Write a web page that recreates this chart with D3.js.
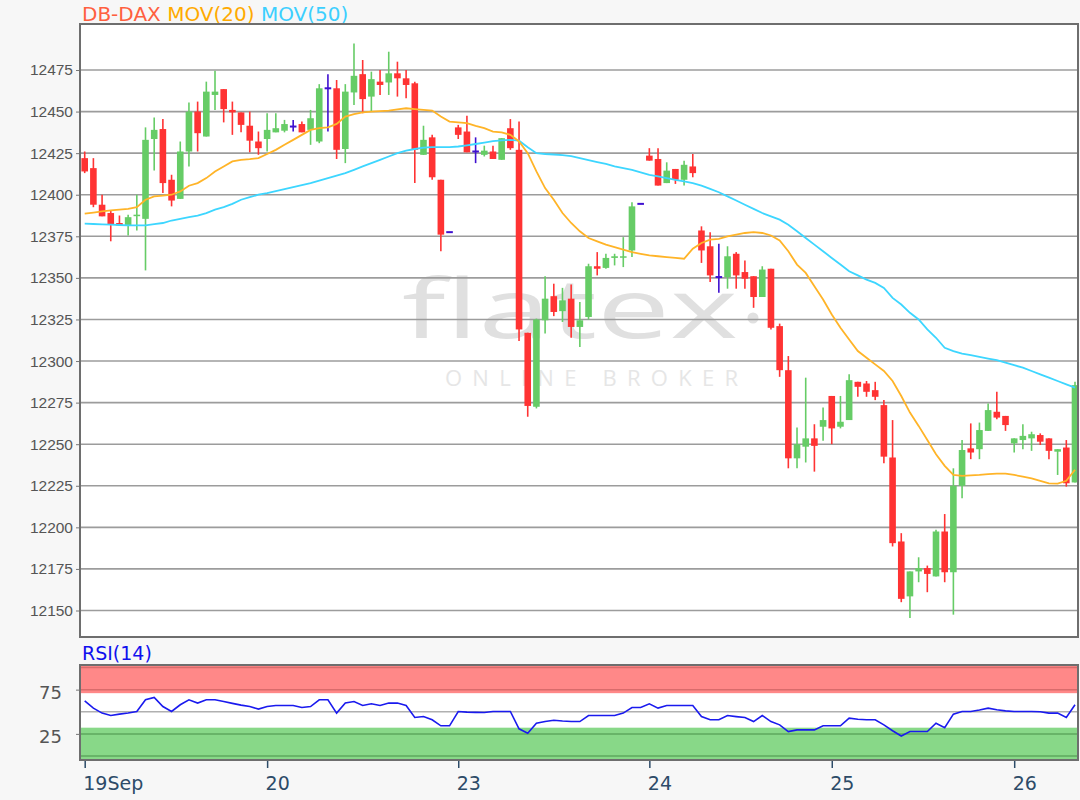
<!DOCTYPE html>
<html><head><meta charset="utf-8">
<script src="https://cdn.jsdelivr.net/npm/d3@7"></script>
<style>body{margin:0;background:#f7f7f7;} svg{display:block;font-family:"DejaVu Sans",Verdana,sans-serif;}</style>
</head><body><svg id="c" width="1080" height="800"></svg>
<script>
const opens=[12422,12416,12394,12389,12383,12381.5,12387.5,12385.5,12433.5,12439.5,
12409,12397.5,12426,12450,12435,12460,12463.5,12451,12449.5,12441.5,
12432,12433.5,12437.5,12438.5,12441,12442.5,12439,12432,12464,12464,
12427.5,12461.5,12472.5,12459,12468,12467.5,12473,12470,12467,12424,
12434.5,12409,12377.5,12440.5,12438,12426,12424,12426,12421,12440,
12427,12317,12272.5,12324.5,12339,12330,12337.5,12320.5,12326.5,12357,
12356,12362,12362.5,12366.5,12394.5,12423.5,12421.5,12407,12415.5,12409,
12417,12378.5,12369,12350.5,12350.5,12364.5,12353.5,12351,12338.5,12355.5,
12321,12294.5,12241.5,12248.5,12253.5,12260.5,12279,12260.5,12264.5,12287.5,
12286.5,12282.5,12273.5,12242,12191.5,12158.5,12173.5,12175.5,12170.5,12197.5,
12173,12225,12247.5,12247,12258,12269.5,12267,12250.5,12252.5,12253.5,
12255.5,12253.5,12245.5,12248,12227];
const highs=[12426,12422,12400,12390.5,12387.5,12388,12400,12440.5,12446.5,12445.5,
12412,12432,12455.5,12456,12468,12474.5,12463.5,12456,12449.5,12450,
12438,12449,12449,12445,12445,12444,12451,12466.5,12472.5,12469,
12466.5,12491,12481,12474,12475,12486,12480,12475,12468,12441.5,
12436,12409,12377.5,12442,12447.5,12434.5,12429.5,12429.5,12434,12445.5,
12444,12317,12325.5,12351,12346.5,12344,12346,12335.5,12358.5,12365.5,
12364.5,12364.5,12374.5,12395.5,12394.5,12428,12428,12419.5,12415.5,12420.5,
12424.5,12381,12377.5,12370.5,12369,12365.5,12360.5,12351,12357,12355.5,
12322.5,12303,12260,12290,12262,12272,12279,12279,12292,12287.5,
12288,12287.5,12276.5,12264.5,12196.5,12173.5,12182,12177,12198.5,12208,
12235.5,12252.5,12262.5,12263,12274.5,12281.5,12267,12253.5,12262,12257.5,
12256.5,12253.5,12247,12252.5,12287.5];
const lows=[12413,12392.5,12387,12372,12381.5,12375.5,12378.5,12354.5,12414.5,12401,
12393,12397.5,12417,12426,12435,12451,12443.5,12436,12437.5,12425.5,
12424,12426,12437.5,12437.5,12438,12437.5,12430,12431,12438,12421.5,
12419,12454,12449,12450,12460,12460,12459,12458,12407,12424,
12409,12366,12377.5,12433.5,12425.5,12419,12423,12421.5,12421,12427,
12312,12266.5,12271.5,12316.5,12327,12323.5,12314,12308.5,12325,12351.5,
12355.5,12357.5,12356.5,12362.5,12394.5,12420.5,12405.5,12407,12406.5,12405.5,
12410.5,12359,12347.5,12341,12343.5,12343.5,12343.5,12332,12338.5,12319,
12290.5,12235.5,12235.5,12239,12233.5,12252,12250,12259.5,12264.5,12278.5,
12278.5,12276.5,12238.5,12188.5,12155,12145.5,12167,12161,12170.5,12167,
12147.5,12217.5,12241,12241,12258,12265,12258,12245,12247,12246,
12249.5,12241,12231.5,12224.5,12227];
const closes=[12414,12394,12387,12382,12381.5,12386.5,12388,12433,12439,12407,
12396.5,12426,12450,12437,12462,12462,12451.5,12449.5,12442,12432.5,
12428,12439,12440,12442.5,12441,12437.5,12446,12464,12464,12427,
12462,12471.5,12457.5,12469.5,12466,12473,12470,12466,12427,12433,
12410.5,12376,12377.5,12436,12425.5,12426,12426.5,12421.5,12434,12428,
12319,12273,12325,12337.5,12329.5,12336.5,12320.5,12324.5,12357,12355.5,
12362,12363,12363,12393,12394.5,12420.5,12405.5,12414.5,12409,12418,
12413,12366.5,12351.5,12350.5,12363,12351.5,12349.5,12338.5,12355,12320,
12294.5,12241.5,12250,12253.5,12249,12264.5,12259.5,12263.5,12288.5,12284.5,
12281.5,12278.5,12242.5,12190.5,12157,12173.5,12175.5,12172,12197.5,12173,
12225,12246.5,12245,12258.5,12270.5,12266,12261.5,12253.5,12255,12256,
12251.5,12246,12247,12226.5,12285.5];
const mov20=[12388.6,12389.3,12390,12390.6,12391,12391.5,12392.5,12397,12399,12399.5,
12400,12402,12405.4,12407,12410,12414,12417,12420,12421,12421.4,
12422,12424.5,12427,12430,12433,12436,12439,12440,12440.5,12442.6,
12447,12448.5,12449.5,12450,12450.3,12450.6,12451.3,12452,12451.5,12451,
12450.6,12447,12444,12443.5,12443,12441.4,12440,12438,12437.5,12436,
12432,12425,12414,12404,12397,12389,12383,12378,12374,12372,
12370,12368.5,12367,12365.5,12364.5,12363.5,12363,12362.5,12362,12361.5,
12367.5,12371,12373,12373.5,12375,12376,12377,12377.5,12377,12375.5,
12372.5,12366,12358,12353,12345,12337,12328,12320,12313,12306,
12302,12298,12294,12288,12279,12269,12261,12252.5,12244,12237,
12231.5,12231,12231.2,12231.5,12232,12232.3,12232.3,12231.5,12230.5,12229.5,
12228,12226.5,12226.3,12228,12234.6];
const mov50=[12382.6,12382.4,12382.2,12382,12381.8,12381.6,12381.6,12381.6,12382.3,12383,
12384.5,12385.5,12386.5,12387.5,12389,12391,12392.5,12394.5,12397,12398.5,
12400,12401,12402.2,12403.4,12404.6,12405.8,12407,12408.5,12410,12411.5,
12413,12415,12417,12419,12421,12423,12425,12426.5,12427.5,12428.3,
12428.6,12428.6,12428.6,12429,12429.7,12430.5,12431.3,12432.2,12432.7,12433,
12432.5,12428.5,12425,12424.5,12424.2,12423.8,12423.2,12422,12420.8,12419.6,
12418.5,12417,12416,12415,12413.5,12412,12411,12410,12409,12408,
12407,12405.5,12403.5,12401.5,12399,12396.5,12394,12391.5,12389,12387,
12385,12382,12378,12374,12370,12366,12362,12358,12354,12351.5,
12349,12347,12344,12338,12334,12329,12325,12319,12314,12308,
12306,12304.5,12303.5,12302.5,12301.5,12300.5,12299,12297.5,12296,12294,
12292,12290,12288,12286,12284];
const rsi14=[62.4,54.1,48.5,45.7,47.3,48.5,50.3,63.5,66.2,55.9,
50.3,57.9,63.5,59.8,63.5,63.5,61.6,59.5,57.5,55.9,
53,55.9,57.1,57.1,57.1,54.8,55.9,63.5,63.5,48.5,
59.8,61.6,57.1,59,57.1,59.8,59.8,57.1,43.5,44.6,
40.9,34.1,34.1,50.3,49.6,49.3,49.1,50.3,50.3,50.3,
30.7,25.7,37,39,40.4,39.5,38.9,38.9,45.7,45.7,
45.7,45.7,48.5,54.8,54.8,59,54.1,57.1,57.1,57.1,
57.1,44.6,40.9,40.9,45.7,44.5,43.5,38.9,45.7,38.9,
35.2,27.6,29.5,29.5,29.5,34.1,34.1,34.1,42.7,41.5,
40.9,40.9,35.2,28.5,22.6,27.6,27.6,27.6,37,32.1,
47.3,50.3,50.3,52,54.1,52.2,51,50.3,50.3,50.3,
50,48.5,48.5,43.5,57.9];
const dayTickIdx=[0,21,43,65,86,107];
const dayLabels=["19Sep","20","23","24","25","26"];
const priceTicks=[12150,12175,12200,12225,12250,12275,12300,12325,12350,12375,12400,12425,12450,12475];
const rsiTickVals=[25,75];
const rsiLevels=[0,25,75,100];
const rsiBands={over:71,under:32};

const svg=d3.select("#c");
const P={l:80,r:1078,t:24,b:637};
const R={t:665,b:760};
const n=closes.length;
const x=d3.scaleLinear().domain([0,n-1]).range([84.7,1075]);
const y=d3.scaleLinear().domain([12150,12475]).range([610.5,70]);
const yr=d3.scaleLinear().domain([0,100]).range([756,667.5]);

// title
const tt=svg.append("text").attr("x",82).attr("y",20.5).attr("font-size",20);
tt.append("tspan").attr("fill","#ff5f3f").text("DB-DAX ");
tt.append("tspan").attr("fill","#ffaa00").text("MOV(20) ");
tt.append("tspan").attr("fill","#3ccfff").text("MOV(50)");

// main panel
svg.append("rect").attr("x",P.l).attr("y",P.t).attr("width",P.r-P.l).attr("height",P.b-P.t).attr("fill","#fff");
const defs=svg.append("defs");
defs.append("clipPath").attr("id","mclip").append("rect").attr("x",P.l).attr("y",P.t).attr("width",P.r-P.l).attr("height",P.b-P.t);
const g=svg.append("g").attr("clip-path","url(#mclip)");

// watermark
g.append("text").attr("x",402).attr("y",338).attr("font-family","'Open Sans',sans-serif").attr("font-weight",400)
 .attr("font-size",82).attr("fill","#e0e0e0").attr("textLength",336).attr("lengthAdjust","spacingAndGlyphs").text("flatex");
g.append("circle").attr("cx",753).attr("cy",318).attr("r",5.5).attr("fill","#e0e0e0");
g.append("text").attr("x",445).attr("y",386).attr("font-family","'Open Sans',sans-serif")
 .attr("font-size",22).attr("fill","#e6e6e6").attr("textLength",293).attr("lengthAdjust","spacing").text("ONLINE BROKER");

// grid
g.selectAll("line.grid").data(priceTicks).join("line").attr("class","grid")
 .attr("x1",P.l).attr("x2",P.r).attr("y1",d=>y(d)).attr("y2",d=>y(d))
 .attr("stroke","#9c9c9c").attr("stroke-width",1.6);

// y axis
const yAxis=d3.axisLeft(y).tickValues(priceTicks).tickSize(4).tickPadding(3).tickFormat(d3.format("d"));
const ya=svg.append("g").attr("transform",`translate(${P.l},0)`).call(yAxis);
ya.select(".domain").remove();
ya.selectAll("line").attr("stroke","#777");
ya.selectAll("text").attr("font-size",15.5).attr("fill","#555").attr("font-family","'Liberation Sans',Arial,sans-serif");

// candles
const bw=6.6;
const cd=d3.range(n).map(i=>({i,o:opens[i],h:highs[i],l:lows[i],c:closes[i]}));
const col=d=>d.c>d.o?"#66cc66":(d.c<d.o?"#ff3333":"#3f10d0");
g.selectAll("line.wick").data(cd).join("line").attr("class","wick")
 .attr("x1",d=>x(d.i)).attr("x2",d=>x(d.i)).attr("y1",d=>y(d.h)).attr("y2",d=>y(d.l))
 .attr("stroke",col).attr("stroke-width",1.6);
g.selectAll("rect.body").data(cd.filter(d=>d.o!==d.c)).join("rect").attr("class","body")
 .attr("x",d=>x(d.i)-bw/2).attr("width",bw)
 .attr("y",d=>y(Math.max(d.o,d.c))).attr("height",d=>Math.max(1.5,Math.abs(y(d.o)-y(d.c))))
 .attr("fill",col);
g.selectAll("line.doji").data(cd.filter(d=>d.o===d.c)).join("line").attr("class","doji")
 .attr("x1",d=>x(d.i)-bw/2).attr("x2",d=>x(d.i)+bw/2).attr("y1",d=>y(d.o)).attr("y2",d=>y(d.o))
 .attr("stroke","#3f10d0").attr("stroke-width",2);

// moving averages
const ln=d3.line().x((d,i)=>x(i)).y(d=>y(d)).curve(d3.curveLinear);
g.append("path").attr("d",ln(mov50)).attr("fill","none").attr("stroke","#3dd6ff").attr("stroke-width",1.8);
g.append("path").attr("d",ln(mov20)).attr("fill","none").attr("stroke","#ffb428").attr("stroke-width",1.8);

svg.append("rect").attr("x",P.l).attr("y",P.t).attr("width",P.r-P.l).attr("height",P.b-P.t)
 .attr("fill","none").attr("stroke","#6e6e6e").attr("stroke-width",2);

// RSI panel
svg.append("text").attr("x",82).attr("y",660).attr("font-size",19).attr("fill","#1010ee").text("RSI(14)");
svg.append("rect").attr("x",P.l).attr("y",R.t).attr("width",P.r-P.l).attr("height",R.b-R.t).attr("fill","#fff");
svg.append("rect").attr("x",P.l).attr("y",R.t).attr("width",P.r-P.l).attr("height",yr(rsiBands.over)-R.t).attr("fill","#ff8888");
svg.append("rect").attr("x",P.l).attr("y",yr(rsiBands.under)).attr("width",P.r-P.l).attr("height",R.b-yr(rsiBands.under)).attr("fill","#88d888");
svg.selectAll("line.rl").data(rsiLevels).join("line").attr("class","rl")
 .attr("x1",P.l).attr("x2",P.r).attr("y1",d=>yr(d)).attr("y2",d=>yr(d))
 .attr("stroke",d=>d>50?"#d96b6b":"#5ea85e").attr("stroke-width",1.5);
svg.append("line").attr("x1",P.l).attr("x2",P.r).attr("y1",yr(50)).attr("y2",yr(50)).attr("stroke","#b0b0b0").attr("stroke-width",1.5);
const rl=d3.line().x((d,i)=>x(i)).y(d=>yr(d));
svg.append("path").attr("d",rl(rsi14)).attr("fill","none").attr("stroke","#1a1aee").attr("stroke-width",1.6);
svg.append("rect").attr("x",P.l).attr("y",R.t).attr("width",P.r-P.l).attr("height",R.b-R.t)
 .attr("fill","none").attr("stroke","#6e6e6e").attr("stroke-width",2);
const ra=svg.append("g").attr("transform",`translate(${P.l},0)`)
 .call(d3.axisLeft(yr).tickValues(rsiTickVals).tickSize(4).tickPadding(14));
ra.select(".domain").remove();
ra.selectAll("line").attr("stroke","#777");
ra.selectAll("text").attr("font-size",18).attr("fill","#555").attr("dy","0.5em").attr("font-family","'DejaVu Sans',sans-serif");

// x axis
const xa=svg.append("g").attr("transform",`translate(0,${R.b+1})`)
 .call(d3.axisBottom(x).tickValues(dayTickIdx).tickSize(7).tickPadding(9).tickFormat((d,i)=>dayLabels[i]));
xa.select(".domain").remove();
xa.selectAll("line").attr("stroke","#2d4b68").attr("stroke-width",1.5);
xa.selectAll("text").attr("font-size",19).attr("fill","#2d4b68").attr("text-anchor","start").attr("dx",-2)
 .attr("font-family","'DejaVu Sans',sans-serif");
</script></body></html>
